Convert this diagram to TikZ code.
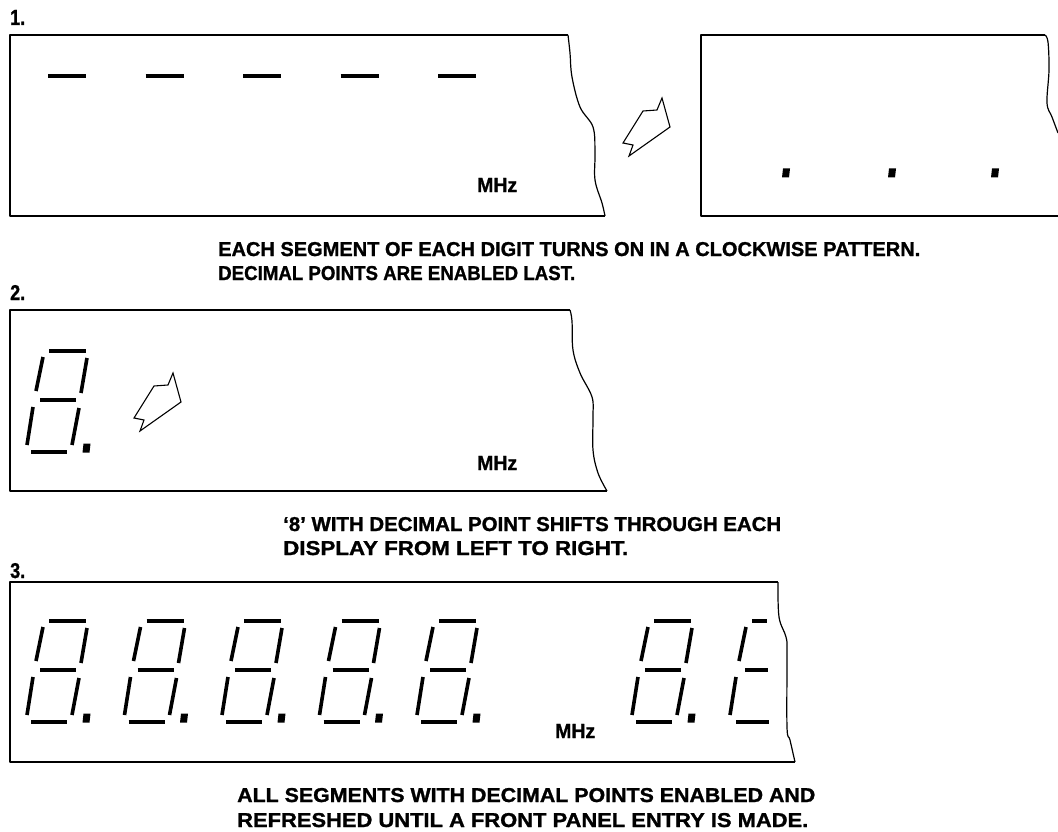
\documentclass[tikz,border=0pt]{standalone}
\usepackage{fontspec}
\setmainfont{Liberation Sans}[BoldFeatures={FakeBold=1.2}]
\usepackage{graphicx}
\tikzset{
  seg/.style={line width=3.6pt, line cap=butt},
  frame/.style={line width=1.2pt, line join=round},
  arrowshape/.style={line width=1.1pt, line join=miter},
  lbl/.style={anchor=base west, inner sep=0pt, font=\bfseries},
  digit8/.pic={
    \draw[seg] (0,0)--(37,0);
    \draw[seg] (-6,6)--(-13,40);
    \draw[seg] (38,7)--(32,42);
    \draw[seg] (-9,49)--(27,49);
    \draw[seg] (-16,56)--(-22,94);
    \draw[seg] (30,57)--(23,94);
    \draw[seg] (-18,101)--(18,101);
    \fill (34.5,92.5)--(41.5,92.5)--(40.5,101.5)--(33.5,101.5)--cycle;
  },
  dpoint/.pic={
    \fill (-3,-4.5)--(4,-4.5)--(3,4.5)--(-4,4.5)--cycle;
  },
  bentarrow/.pic={
    \draw[arrowshape] (0,0)--(-5,12)--(-19,13)--(-39,45)--(-29,47)--(-33,58)--(8,29)--cycle;
  }
}
\newcommand{\fitw}[3]{\resizebox{#1pt}{#2pt}{#3}}
\begin{document}
\begin{tikzpicture}[x=1pt,y=-1pt]
\useasboundingbox (0,0) rectangle (1058,832);

% ---------- panel 1 ----------
\node[lbl] (n1) at (10,25) {\fitw{15}{15}{1.}};
\draw[frame] (568,35) -- (10,35) -- (10,216) -- (605,216);
\draw[frame] plot[smooth, tension=0.6] coordinates {(568,35)(570,53)(572,77)(580,107)(593,127)(595,153)(595,180)(602,203)(605,216)};
\foreach \i in {0,...,4}{
  \draw[seg] ({48+97.5*\i},76) -- ({86+97.5*\i},76);
}
\node[lbl] (mhz1) at (477,192) {\fitw{40}{14}{MHz}};
\pic at (662,98) {bentarrow};

\draw[frame] (1045,35) -- (701,35) -- (701,216) -- (1058,216);
\draw[frame] plot[smooth, tension=0.6] coordinates {(1045,35)(1048,42)(1049,70)(1047,103)(1052,117)(1058,133)};
\pic at (786,173) {dpoint};
\pic at (892,173) {dpoint};
\pic at (995,173) {dpoint};

\node[lbl] (t1a) at (218,256) {\fitw{702}{14}{EACH SEGMENT OF EACH DIGIT TURNS ON IN A CLOCKWISE PATTERN.}};
\node[lbl] (t1b) at (218,280) {\fitw{357}{14}{DECIMAL POINTS ARE ENABLED LAST.}};

% ---------- panel 2 ----------
\node[lbl] (n2) at (10,300) {\fitw{15}{15}{2.}};
\draw[frame] (570,310) -- (10,310) -- (10,491) -- (607,491);
\draw[frame] plot[smooth, tension=0.6] coordinates {(570,310)(572,321)(573,350)(580,373)(592,397)(593,417)(593,450)(598,473)(607,491)};
\pic at (49,351) {digit8};
\pic at (173,373) {bentarrow};
\node[lbl] (mhz2) at (477,470) {\fitw{40}{14}{MHz}};

\node[lbl] (t2a) at (283,531) {\fitw{498}{14}{‘8’ WITH DECIMAL POINT SHIFTS THROUGH EACH}};
\node[lbl] (t2b) at (283,555) {\fitw{345}{14}{DISPLAY FROM LEFT TO RIGHT.}};

% ---------- panel 3 ----------
\node[lbl] (n3) at (10,578) {\fitw{15}{15}{3.}};
\draw[frame] (778,582) -- (10,582) -- (10,762) -- (795,762);
\draw[frame] plot[smooth, tension=0.6] coordinates {(778,582)(779,617)(786,637)(787,653)(787,727)(790,740)(795,762)};
\foreach \x in {49,146.5,244,341.5,439,654}{
  \pic at (\x,621) {digit8};
}
% partial last digit
\begin{scope}[shift={(752,621)}]
  \draw[seg] (0,0)--(15,0);
  \draw[seg] (-6,6)--(-13,40);
  \draw[seg] (-7,49)--(16,49);
  \draw[seg] (-16,56)--(-22,94);
  \draw[seg] (-16,101)--(17,101);
\end{scope}
\node[lbl] (mhz3) at (555,738) {\fitw{40}{14}{MHz}};

\node[lbl] (t3a) at (237,802) {\fitw{578}{14}{ALL SEGMENTS WITH DECIMAL POINTS ENABLED AND}};
\node[lbl] (t3b) at (237,827) {\fitw{571}{14}{REFRESHED UNTIL A FRONT PANEL ENTRY IS MADE.}};
\end{tikzpicture}
\end{document}
